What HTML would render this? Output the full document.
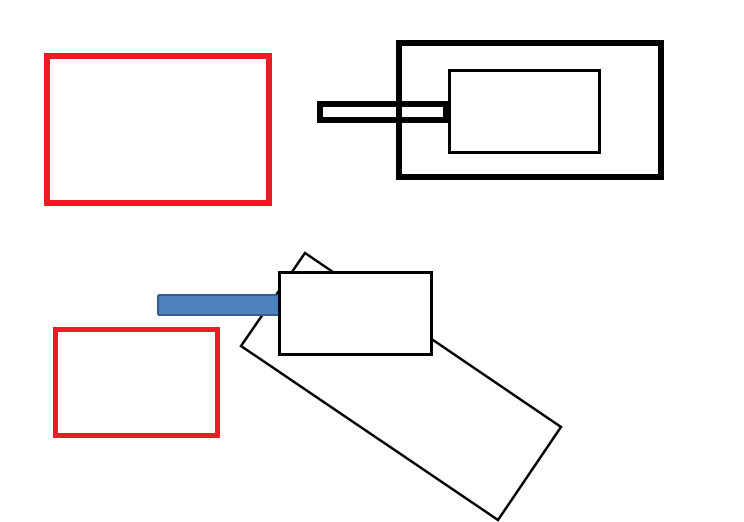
<!DOCTYPE html>
<html><head><meta charset="utf-8"><style>
html,body{margin:0;padding:0;background:#fff;width:744px;height:522px;overflow:hidden}
svg{display:block}
</style></head><body>
<svg width="744" height="522" viewBox="0 0 744 522" xmlns="http://www.w3.org/2000/svg">
<rect x="47" y="56" width="222" height="147" fill="none" stroke="#ed1c24" stroke-width="6"/>
<rect x="399" y="43" width="262" height="134" fill="none" stroke="#000" stroke-width="6"/>
<rect x="449.5" y="70.5" width="150" height="82" fill="none" stroke="#000" stroke-width="3"/>
<rect x="320" y="104" width="126" height="16" fill="none" stroke="#000" stroke-width="6"/>
<polygon points="305,253 561,427 498,520 241,346" fill="#fff" stroke="#000" stroke-width="2.5"/>
<rect x="158" y="295" width="124" height="20" rx="1.5" fill="#4f81bd" stroke="#385d8a" stroke-width="2"/>
<rect x="279.5" y="272.5" width="152" height="82" fill="#fff" stroke="#000" stroke-width="3"/>
<rect x="55.5" y="329.5" width="162" height="106" fill="none" stroke="#ed1c24" stroke-width="5"/>
</svg>
</body></html>
